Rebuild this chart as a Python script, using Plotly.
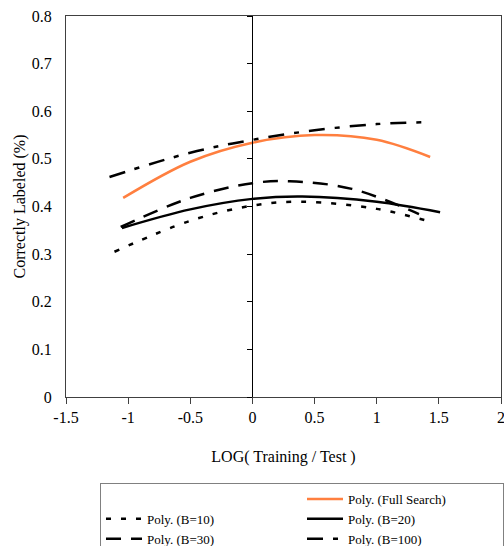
import plotly.graph_objects as go

# ---- data ----
full_x = [-1.04, -0.5, 0.0, 0.5, 1.0, 1.43]
full_y = [0.418, 0.494, 0.534, 0.550, 0.540, 0.504]

b10_x = [-1.11, -0.5, 0.0, 0.4, 1.0, 1.46]
b10_y = [0.305, 0.370, 0.402, 0.410, 0.395, 0.366]

b20_x = [-1.05, -0.5, 0.0, 0.4, 1.0, 1.51]
b20_y = [0.355, 0.394, 0.416, 0.421, 0.410, 0.388]

b30_x = [-1.06, -0.5, 0.0, 0.3, 0.8, 1.34]
b30_y = [0.357, 0.418, 0.449, 0.453, 0.437, 0.384]

b100_x = [-1.15, -0.5, 0.0, 0.5, 1.0, 1.40]
b100_y = [0.462, 0.513, 0.540, 0.560, 0.573, 0.577]

x_ticks = [-1.5, -1, -0.5, 0, 0.5, 1, 1.5, 2]
x_tick_labels = ["-1.5", "-1", "-0.5", "0", "0.5", "1", "1.5", "2"]
y_ticks = [0, 0.1, 0.2, 0.3, 0.4, 0.5, 0.6, 0.7, 0.8]
y_tick_labels = ["0", "0.1", "0.2", "0.3", "0.4", "0.5", "0.6", "0.7", "0.8"]

FONT = "Liberation Serif"

fig = go.Figure()

# blank placeholder so the legend grid leaves the first cell empty
fig.add_trace(go.Scatter(x=[None], y=[None], mode="lines", name=" ",
                         line=dict(color="rgba(0,0,0,0)", width=0), hoverinfo="skip"))
fig.add_trace(go.Scatter(x=full_x, y=full_y, mode="lines", name="Poly. (Full Search)",
                         line=dict(color="#FF7F3F", width=2.5, shape="spline")))
fig.add_trace(go.Scatter(x=b10_x, y=b10_y, mode="lines", name="Poly. (B=10)",
                         line=dict(color="black", width=2.5, shape="spline", dash="5px,10px")))
fig.add_trace(go.Scatter(x=b20_x, y=b20_y, mode="lines", name="Poly. (B=20)",
                         line=dict(color="black", width=2.5, shape="spline")))
fig.add_trace(go.Scatter(x=b30_x, y=b30_y, mode="lines", name="Poly. (B=30)",
                         line=dict(color="black", width=2.5, shape="spline", dash="15px,10px")))
fig.add_trace(go.Scatter(x=b100_x, y=b100_y, mode="lines", name="Poly. (B=100)",
                         line=dict(color="black", width=2.5, shape="spline", dash="16px,10px,5px,10px")))

W, H = 504, 546
L, R, T = 66, 3, 16
PLOT_BOTTOM = 397
B = H - PLOT_BOTTOM
PW = W - L - R
PH = PLOT_BOTTOM - T

fig.update_layout(
    width=W, height=H,
    margin=dict(l=L, r=R, t=T, b=B, autoexpand=False),
    paper_bgcolor="white", plot_bgcolor="white",
    font=dict(family=FONT, size=16, color="black"),
    showlegend=True,
    legend=dict(
        orientation="h",
        x=(100 - L) / PW, xanchor="left",
        y=(PLOT_BOTTOM - 483) / PH, yanchor="top",
        entrywidth=150, entrywidthmode="pixels",
        itemwidth=36,
        font=dict(family=FONT, size=13, color="black"),
        bordercolor="#808080", borderwidth=1,
        bgcolor="white",
        traceorder="normal",
    ),
    xaxis=dict(
        range=[-1.5, 2], tickvals=x_ticks, ticktext=x_tick_labels,
        showgrid=False, zeroline=False, automargin=False,
        showline=True, linecolor="#404040", linewidth=1, mirror=True,
        ticks="outside", ticklen=6, tickcolor="#404040",
        ticklabeloverflow="allow",
        title=dict(text="LOG( Training / Test )", standoff=25,
                   font=dict(family=FONT, size=16)),
    ),
    yaxis=dict(
        range=[0, 0.8], tickvals=y_ticks, ticktext=y_tick_labels,
        showgrid=False, zeroline=False, automargin=False,
        showline=True, linecolor="#404040", linewidth=1, mirror=True,
        ticks="", ticklabelstandoff=10, ticklabeloverflow="allow",
        title=dict(text="Correctly Labeled (%)", standoff=2,
                   font=dict(family=FONT, size=16)),
    ),
    yaxis2=dict(
        range=[0, 0.8], tickvals=y_ticks, overlaying="y", anchor="free",
        position=(0 - (-1.5)) / 3.5, side="left",
        showgrid=False, zeroline=False, showticklabels=False,
        showline=True, linecolor="black", linewidth=1,
        ticks="outside", ticklen=5, tickcolor="black",
    ),
)

# empty trace so the inner axis at x=0 is drawn
fig.add_trace(go.Scatter(x=[None], y=[None], yaxis="y2", showlegend=False, hoverinfo="skip"))

# remove the default 8px page margin so the figure sits at the window's top-left corner
fig.write_html("out.html", config={"displayModeBar": False},
               post_script="document.body.style.margin='0px';")
